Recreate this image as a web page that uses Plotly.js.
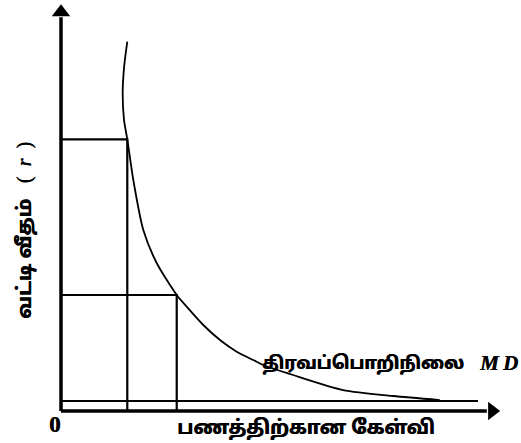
<!DOCTYPE html>
<html>
<head>
<meta charset="utf-8">
<script src="https://cdn.plot.ly/plotly-3.0.1.min.js"></script>
<style>html,body{margin:0;padding:0;background:#fff;}#chart{width:521px;height:443px;}</style>
</head>
<body>
<div id="chart"></div>
<script>
// Money demand (liquidity preference) curve
const curveX = [15.1, 14.4, 14.05, 14.35, 15.1, 16.47, 18.75, 21.8, 26.36, 28.63, 32.41, 36.22, 40.02, 43.8, 46.08, 52.85, 64.24, 75.63, 86.3];
const curveY = [91.0, 85.0, 78.3, 71.7, 66.92, 56.9, 44.58, 36.45, 28.57, 25.69, 21.18, 17.49, 14.61, 12.56, 11.33, 8.87, 5.17, 3.69, 2.7];
// Reference points on the curve (money demand, interest rate)
const pointX = [15.1, 26.36];
const pointY = [66.92, 28.57];
// Liquidity trap floor
const trapY = 2.46;
const trapXEnd = 95;
// Labels
const yLabel = 'வட்டி வீதம்';
const yVar = 'r';
const xLabel = 'பணத்திற்கான கேள்வி';
const curveLabel = 'திரவப்பொறிநிலை';
const curveName = 'M\u2009D';
const originLabel = '0';

const tamilFont = "'Noto Sans Tamil', 'Lohit Tamil', 'FreeSans', 'Noto Sans', sans-serif";
const serif = "Liberation Serif, Times New Roman, serif";
const blk = '#000';
const traces = [];
// axes
traces.push({x:[0,0], y:[0,97], mode:'lines', line:{color:blk,width:3.5}, hoverinfo:'skip'});
traces.push({x:[0,97], y:[0,0], mode:'lines', line:{color:blk,width:3.5}, hoverinfo:'skip'});
traces.push({x:[0], y:[98.2], mode:'markers', marker:{symbol:'triangle-up', size:16, color:blk}, cliponaxis:false, hoverinfo:'skip'});
traces.push({x:[98.2], y:[0], mode:'markers', marker:{symbol:'triangle-right', size:16, color:blk}, cliponaxis:false, hoverinfo:'skip'});
// guide lines
for (let i=0;i<pointX.length;i++){
  traces.push({x:[0,pointX[i],pointX[i]], y:[pointY[i],pointY[i],0], mode:'lines', line:{color:blk,width:2.2}, hoverinfo:'skip'});
}
traces.push({x:[0,trapXEnd], y:[trapY,trapY], mode:'lines', line:{color:blk,width:2.2}, hoverinfo:'skip'});
// curve
traces.push({x:curveX, y:curveY, mode:'lines', line:{color:blk,width:1.8,shape:'spline',smoothing:0.7}, hoverinfo:'skip'});

const tf = (size) => ({family:tamilFont, size:size, color:blk, weight:700, shadow:'0.6px 0 0 #000'});
const layout = {
  width:521, height:443,
  margin:{l:50, r:21, t:5, b:20},
  paper_bgcolor:'#fff', plot_bgcolor:'#fff',
  showlegend:false,
  xaxis:{range:[-2.5057,100], visible:false, fixedrange:true},
  yaxis:{range:[-2.9557,100], visible:false, fixedrange:true},
  annotations:[
    {xref:'paper', yref:'paper', x:0.01, y:-0.0036, text:'<b>'+originLabel+'</b>', showarrow:false, xanchor:'center', yanchor:'middle', font:{family:serif, size:23, color:blk, weight:700, shadow:'0.4px 0 0 #000'}},
    {xref:'paper', yref:'paper', x:0.5689, y:-0.0144, text:xLabel, showarrow:false, xanchor:'center', yanchor:'middle', font:tf(19.5)},
    {xref:'paper', yref:'paper', x:0.4667, y:0.1388, text:curveLabel, showarrow:false, xanchor:'left', yanchor:'middle', font:tf(18)},
    {xref:'paper', yref:'paper', x:0.949, y:0.1435, text:'<b><i>'+curveName+'</i></b>', showarrow:false, xanchor:'left', yanchor:'middle', font:{family:serif, size:21, color:blk, weight:700, shadow:'0.4px 0 0 #000'}},
    {xref:'paper', yref:'paper', x:-0.0556, y:0.4617, text:yLabel+'   <span style="font-family:Liberation Serif;font-weight:normal">(  <i>'+yVar+'</i>  )</span>', textangle:-90, showarrow:false, xanchor:'center', yanchor:'middle', font:tf(20)}
  ]
};
Plotly.newPlot('chart', traces, layout, {displayModeBar:false, staticPlot:true});
</script>
</body>
</html>
